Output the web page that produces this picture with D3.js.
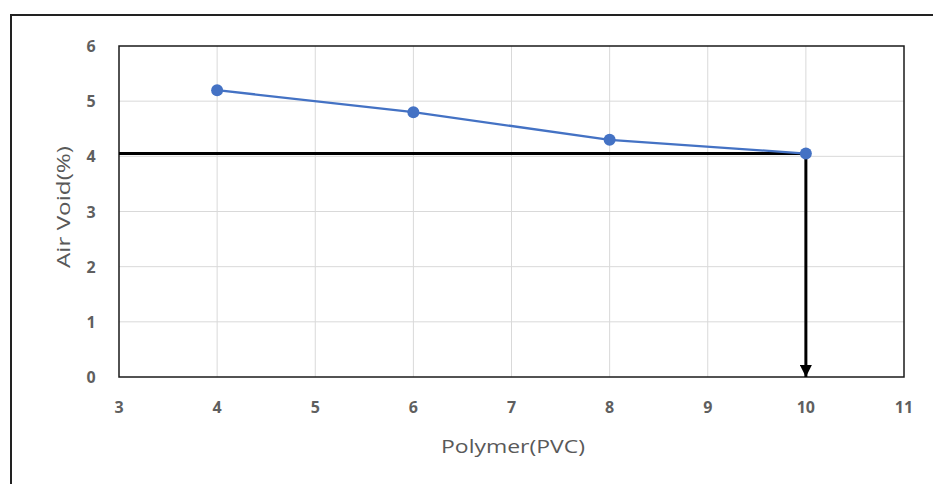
<!DOCTYPE html>
<html>
<head>
<meta charset="utf-8">
<script src="https://cdn.jsdelivr.net/npm/d3@7"></script>
<style>
  body { margin: 0; background: #fff; }
  svg { display: block; font-family: "Open Sans", sans-serif; }
</style>
</head>
<body>
<svg id="chart" width="933" height="484"></svg>
<script>
// ── Data ─────────────────────────────────────────────────────────────────────
const polymer  = [4, 6, 8, 10];
const airVoid  = [5.2, 4.8, 4.3, 4.05];
const xTicks   = [3, 4, 5, 6, 7, 8, 9, 10, 11];
const yTicks   = [0, 1, 2, 3, 4, 5, 6];
const targetVoid = 4.05;   // design air void, read down to polymer content
const targetPolymer = 10;

// ── Layout ───────────────────────────────────────────────────────────────────
const svg = d3.select('#chart');
const m = { left: 119, right: 904, top: 46, bottom: 377 };

const x = d3.scaleLinear().domain([3, 11]).range([m.left, m.right]);
const y = d3.scaleLinear().domain([0, 6]).range([m.bottom, m.top]);

// outer chart frame (runs off the right/bottom edge like the screenshot)
svg.append('rect')
  .attr('x', 11).attr('y', 15)
  .attr('width', 940).attr('height', 500)
  .attr('fill', 'none').attr('stroke', '#222').attr('stroke-width', 2);

// gridlines
svg.append('g').selectAll('line').data(xTicks.slice(1, -1)).join('line')
  .attr('x1', d => x(d)).attr('x2', d => x(d))
  .attr('y1', m.top).attr('y2', m.bottom)
  .attr('stroke', '#d9d9d9').attr('stroke-width', 1);
svg.append('g').selectAll('line').data(yTicks.slice(1, -1)).join('line')
  .attr('x1', m.left).attr('x2', m.right)
  .attr('y1', d => y(d)).attr('y2', d => y(d))
  .attr('stroke', '#d9d9d9').attr('stroke-width', 1);

// plot frame
svg.append('rect')
  .attr('x', m.left).attr('y', m.top)
  .attr('width', m.right - m.left).attr('height', m.bottom - m.top)
  .attr('fill', 'none').attr('stroke', '#1a1a1a').attr('stroke-width', 1.5);

// tick labels
svg.append('g').selectAll('text').data(xTicks).join('text')
  .attr('x', d => x(d)).attr('y', 413)
  .attr('text-anchor', 'middle')
  .attr('font-size', 16).attr('font-weight', 'bold').attr('fill', '#5f5f5f')
  .text(d => d);
svg.append('g').selectAll('text').data(yTicks).join('text')
  .attr('x', 91).attr('y', d => y(d) + 6)
  .attr('text-anchor', 'middle')
  .attr('font-size', 16).attr('font-weight', 'bold').attr('fill', '#5f5f5f')
  .text(d => d);

// axis titles (Calibri in the original is wider; stretch to match)
svg.append('text')
  .attr('transform', `translate(64,207) rotate(-90)`)
  .attr('text-anchor', 'middle').attr('dy', '0.35em')
  .attr('font-size', 18).attr('fill', '#595959')
  .attr('textLength', 122).attr('lengthAdjust', 'spacingAndGlyphs')
  .text('Air Void(%)');
svg.append('text')
  .attr('x', 513).attr('y', 453)
  .attr('text-anchor', 'middle')
  .attr('font-size', 18).attr('fill', '#595959')
  .attr('textLength', 144).attr('lengthAdjust', 'spacingAndGlyphs')
  .text('Polymer(PVC)');

// design reading lines
svg.append('defs').append('marker')
  .attr('id', 'arrow').attr('viewBox', '0 0 10 10')
  .attr('refX', 10).attr('refY', 5)
  .attr('markerWidth', 4).attr('markerHeight', 4)
  .attr('markerUnits', 'strokeWidth').attr('orient', 'auto')
  .append('path').attr('d', 'M0,0 L10,5 L0,10 Z').attr('fill', '#000');

svg.append('line')
  .attr('x1', x(3)).attr('x2', x(targetPolymer))
  .attr('y1', y(targetVoid)).attr('y2', y(targetVoid))
  .attr('stroke', '#000').attr('stroke-width', 3);
svg.append('line')
  .attr('x1', x(targetPolymer)).attr('x2', x(targetPolymer))
  .attr('y1', y(targetVoid)).attr('y2', y(0))
  .attr('stroke', '#000').attr('stroke-width', 3)
  .attr('marker-end', 'url(#arrow)');

// series
const pts = polymer.map((p, i) => [p, airVoid[i]]);
svg.append('path')
  .datum(pts)
  .attr('fill', 'none').attr('stroke', '#4472c4').attr('stroke-width', 2.25)
  .attr('d', d3.line().x(d => x(d[0])).y(d => y(d[1])));
svg.append('g').selectAll('circle').data(pts).join('circle')
  .attr('cx', d => x(d[0])).attr('cy', d => y(d[1]))
  .attr('r', 6).attr('fill', '#4472c4');
</script>
</body>
</html>
